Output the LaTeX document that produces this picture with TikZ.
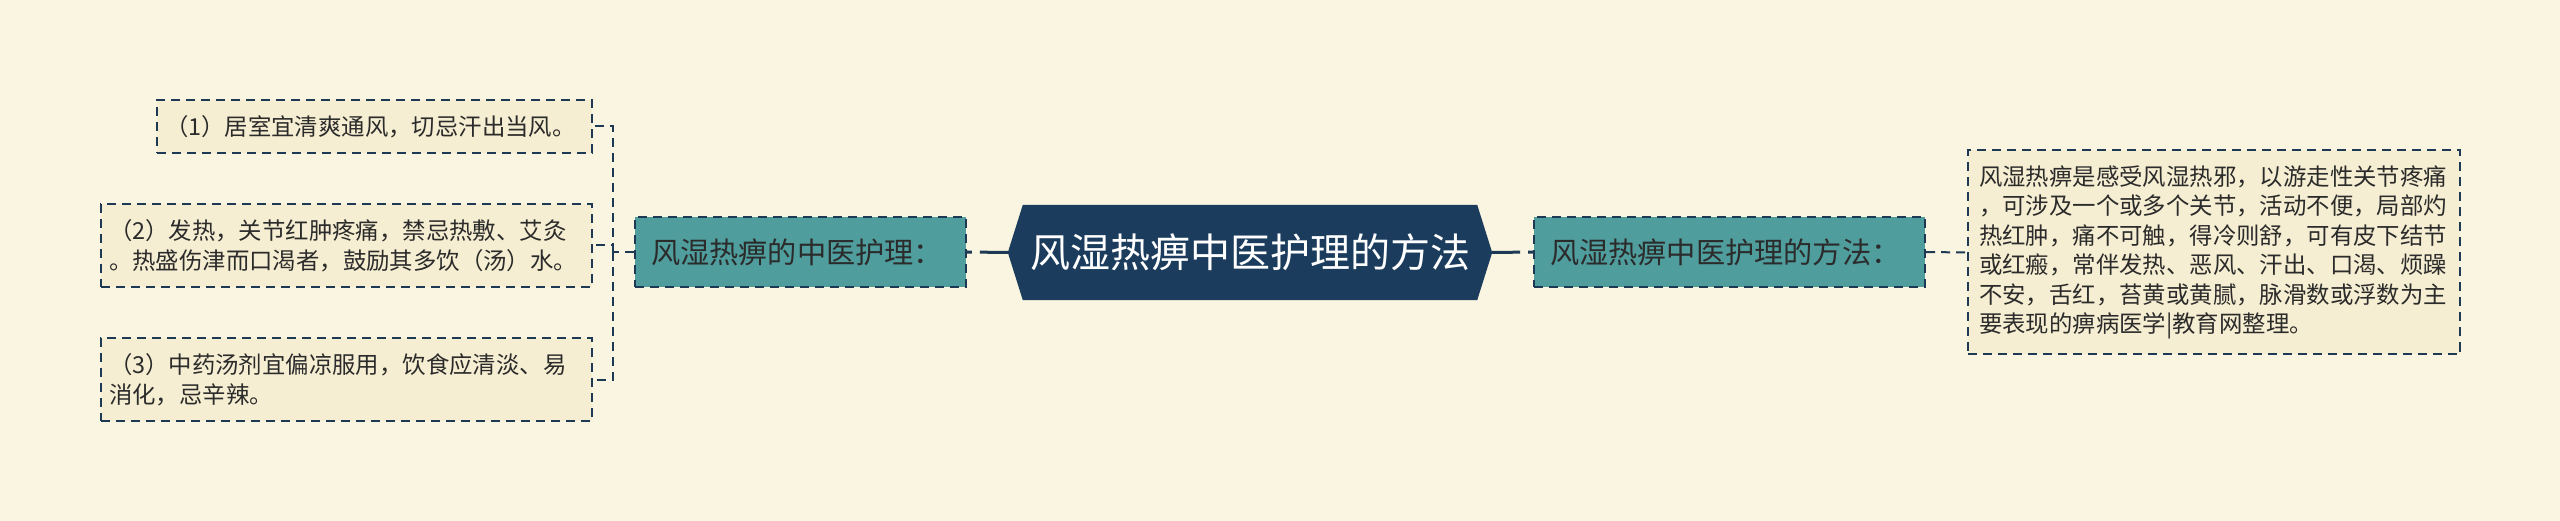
\documentclass[tikz,border=0pt]{standalone}
\usepackage{fontspec}
\setmainfont{Noto Sans CJK SC}
\usetikzlibrary{calc}
\pgfdeclarelayer{bglayer}
\pgfsetlayers{bglayer,main}
\definecolor{bgc}{HTML}{FAF5E1}
\definecolor{boxc}{HTML}{F6EED2}
\definecolor{tealc}{HTML}{4F9D9D}
\definecolor{navyc}{HTML}{1B3C5C}
\definecolor{dashc}{HTML}{1E3954}
\definecolor{txtc}{HTML}{2B2B2B}
\tikzset{
  leafbox/.style={draw=dashc, fill=boxc, line width=2pt, dash pattern=on 9pt off 6pt,
    inner xsep=8pt, inner ysep=0pt, align=left, text=txtc,
    font=\fontsize{23.4}{29.5}\selectfont},
  midbox/.style={draw=dashc, fill=tealc, line width=2pt, dash pattern=on 9pt off 6pt,
    inner xsep=16pt, inner ysep=0pt, align=left, text=txtc,
    font=\fontsize{29.2}{35}\selectfont},
  rootbox/.style={inner sep=0pt, text=white, font=\fontsize{40}{47}\selectfont},
  dashlink/.style={draw=dashc, line width=2pt, dash pattern=on 9pt off 6pt},
  rootlink/.style={draw=dashc, line width=3pt, dash pattern=on 28pt off 8pt on 6pt off 20pt},
}
\begin{document}
\begin{tikzpicture}[x=1pt,y=-1pt]
\begin{pgfonlayer}{bglayer}
\path[use as bounding box, fill=bgc] (0,0) rectangle (2560,521);
\end{pgfonlayer}

% root
\node[rootbox, minimum width=454pt, minimum height=95pt] (C) at (1250,252.5) {风湿热痹中医护理的方法};
\coordinate (cl) at ($(C.west)+(-15pt,0)$);
\coordinate (cr) at ($(C.east)+(15pt,0)$);
\begin{pgfonlayer}{bglayer}
\fill[navyc] (C.north west) -- (cl) -- (C.south west) -- (C.south east) -- (cr) -- (C.north east) -- cycle;
\end{pgfonlayer}

% second level
\node[midbox, minimum width=331pt, minimum height=70pt, text width=299pt] (L) at (800.5,252) {风湿热痹的中医护理：};
\node[midbox, minimum width=391pt, minimum height=70pt, text width=359pt] (R) at (1729.5,252) {风湿热痹中医护理的方法：};

% leaves
\node[leafbox, minimum width=435pt, minimum height=53pt, text width=419pt] (B1) at (374.5,126.5) {（1）居室宜清爽通风，切忌汗出当风。};
\node[leafbox, minimum width=491pt, minimum height=83pt, text width=475pt] (B2) at (346.5,245.5) {（2）发热，关节红肿疼痛，禁忌热敷、艾灸\\。热盛伤津而口渴者，鼓励其多饮（汤）水。};
\node[leafbox, minimum width=491pt, minimum height=83pt, text width=475pt] (B3) at (346.5,379.5) {（3）中药汤剂宜偏凉服用，饮食应清淡、易\\消化，忌辛辣。};
\node[leafbox, inner xsep=11pt, minimum width=492pt, minimum height=204pt, text width=470pt] (D) at (2214,252.5) {风湿热痹是感受风湿热邪，以游走性关节疼痛\\，可涉及一个或多个关节，活动不便，局部灼\\热红肿，痛不可触，得冷则舒，可有皮下结节\\或红瘢，常伴发热、恶风、汗出、口渴、烦躁\\不安，舌红，苔黄或黄腻，脉滑数或浮数为主\\要表现的痹病医学|教育网整理。};

% connectors
\draw[rootlink] (cl) -- (L.east);
\draw[rootlink] (cr) -- (R.west);
\draw[dashlink] (R.east) -- (D.west);
\coordinate (j) at (613,252);
\draw[dashlink] (L.west) -- (j);
\draw[dashlink] (j) |- (B1.east);
\draw[dashlink] (j) |- (B2.east);
\draw[dashlink] (j) |- (B3.east);
\end{tikzpicture}
\end{document}
